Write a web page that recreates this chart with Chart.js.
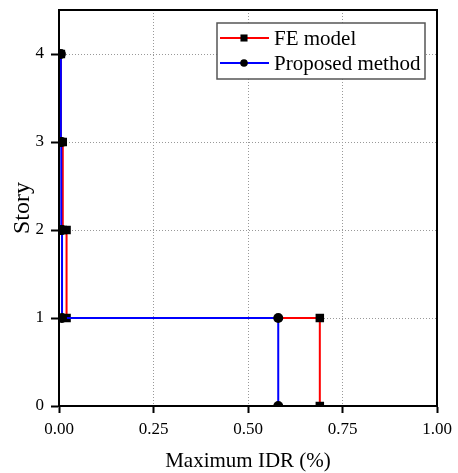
<!DOCTYPE html>
<html>
<head>
<meta charset="utf-8">
<script src="https://cdn.jsdelivr.net/npm/chart.js@4/dist/chart.umd.min.js"></script>
<style>
  html, body { margin: 0; padding: 0; background: #fff; }
  #wrap { width: 458px; height: 473px; }
</style>
</head>
<body>
<div id="wrap"><canvas id="idrChart" width="458" height="473"></canvas></div>
<script>
// Story drift profiles (step shape: each story holds its drift up to the next floor)
const storyFE = [0, 1, 1, 2, 2, 3, 3, 4];
const idrFE = [0.69, 0.69, 0.02, 0.02, 0.01, 0.01, 0.005, 0.005];
const storyPM = [0, 1, 1, 2, 2, 3, 3, 4];
const idrPM = [0.58, 0.58, 0.008, 0.008, 0.006, 0.006, 0.005, 0.005];

const xTicks = [0, 0.25, 0.5, 0.75, 1.0];
const yTicks = [0, 1, 2, 3, 4];
const seriesNames = ['FE model', 'Proposed method'];

const serif = "'Liberation Serif', 'Times New Roman', serif";

function toPoints(xs, ys) {
    return xs.map((x, i) => ({ x: x, y: ys[i] }));
}

// Closed black frame around the plot area
const framePlugin = {
    id: 'frame',
    afterDraw(chart) {
        const { ctx, chartArea: a } = chart;
        ctx.save();
        ctx.strokeStyle = '#000';
        ctx.lineWidth = 2;
        ctx.strokeRect(a.left, a.top, a.right - a.left, a.bottom - a.top);
        ctx.restore();
    }
};

// Boxed legend with line + marker samples
const boxLegend = {
    id: 'boxLegend',
    afterDraw(chart) {
        const { ctx } = chart;
        const x0 = 217, y0 = 23, w = 208, h = 56;
        ctx.save();
        ctx.fillStyle = '#fff';
        ctx.fillRect(x0, y0, w, h);
        ctx.strokeStyle = '#555';
        ctx.lineWidth = 1.5;
        ctx.strokeRect(x0, y0, w, h);
        chart.data.datasets.forEach((ds, i) => {
            const y = y0 + 15 + i * 25;
            ctx.strokeStyle = ds.borderColor;
            ctx.lineWidth = ds.borderWidth;
            ctx.beginPath();
            ctx.moveTo(x0 + 3, y);
            ctx.lineTo(x0 + 52, y);
            ctx.stroke();
            ctx.fillStyle = '#000';
            Chart.helpers.drawPoint(ctx, {
                pointStyle: ds.pointStyle,
                radius: ds.pointStyle === 'rect' ? 5 : 3.8,
                borderWidth: 0,
                rotation: 0
            }, x0 + 27, y);
            ctx.font = '21px ' + serif;
            ctx.textAlign = 'left';
            ctx.textBaseline = 'middle';
            ctx.fillText(ds.label, x0 + 57, y + 1);
        });
        ctx.restore();
    }
};

function buildChart() {
    const ctx = document.getElementById('idrChart').getContext('2d');
    return new Chart(ctx, {
        type: 'scatter',
        data: {
            datasets: [{
                label: seriesNames[0],
                data: toPoints(idrFE, storyFE),
                showLine: true,
                borderColor: '#ff0000',
                borderWidth: 2,
                pointStyle: 'rect',
                pointRadius: 6,
                pointBackgroundColor: '#000',
                pointBorderColor: '#000',
                pointBorderWidth: 0,
                clip: 0,
                order: 2
            }, {
                label: seriesNames[1],
                data: toPoints(idrPM, storyPM),
                showLine: true,
                borderColor: '#0000ff',
                borderWidth: 2,
                pointStyle: 'circle',
                pointRadius: 5,
                pointBackgroundColor: '#000',
                pointBorderColor: '#000',
                pointBorderWidth: 0,
                clip: 0,
                order: 1
            }]
        },
        options: {
            responsive: false,
            animation: false,
            // 396px tall plot -> 88px per story, so story lines land on whole pixels
            layout: { padding: { top: 10, right: 21, left: 0, bottom: 0 } },
            plugins: {
                legend: { display: false },
                tooltip: { enabled: false }
            },
            scales: {
                x: {
                    type: 'linear',
                    min: 0,
                    max: 1,
                    afterBuildTicks: s => { s.ticks = xTicks.map(v => ({ value: v })); },
                    afterFit: s => { s.height = 67; },
                    grid: {
                        color: '#999999',
                        lineWidth: 1,
                        tickColor: '#000',
                        tickWidth: 2,
                        tickLength: 7
                    },
                    border: { display: true, color: '#000', width: 2, dash: [1, 2] },
                    ticks: {
                        color: '#000',
                        padding: 6,
                        font: { family: serif, size: 17 },
                        callback: v => v.toFixed(2)
                    },
                    title: {
                        display: true,
                        text: 'Maximum IDR (%)',
                        color: '#000',
                        font: { family: serif, size: 21, lineHeight: 1.1 },
                        padding: { top: 2, bottom: 0 }
                    }
                },
                y: {
                    type: 'linear',
                    min: 0,
                    max: 4.5,
                    afterBuildTicks: s => { s.ticks = yTicks.map(v => ({ value: v })); },
                    afterFit: s => {
                        s.width = 59;
                        // top tick sits below the edge, so no label overhang is needed
                        s.paddingTop = 0;
                        s.paddingBottom = 0;
                    },
                    grid: {
                        color: '#999999',
                        lineWidth: 1,
                        tickColor: '#000',
                        tickWidth: 2,
                        tickLength: 8
                    },
                    border: { display: true, color: '#000', width: 2, dash: [1, 2] },
                    ticks: {
                        color: '#000',
                        padding: 7,
                        font: { family: serif, size: 17 },
                        callback: v => String(v)
                    },
                    title: {
                        display: true,
                        text: 'Story',
                        color: '#000',
                        font: { family: serif, size: 24, lineHeight: 1.2 },
                        padding: { top: 8, bottom: 0 }
                    }
                }
            }
        },
        plugins: [framePlugin, boxLegend]
    });
}

document.addEventListener('DOMContentLoaded', () => {
    buildChart();
});
</script>
</body>
</html>
